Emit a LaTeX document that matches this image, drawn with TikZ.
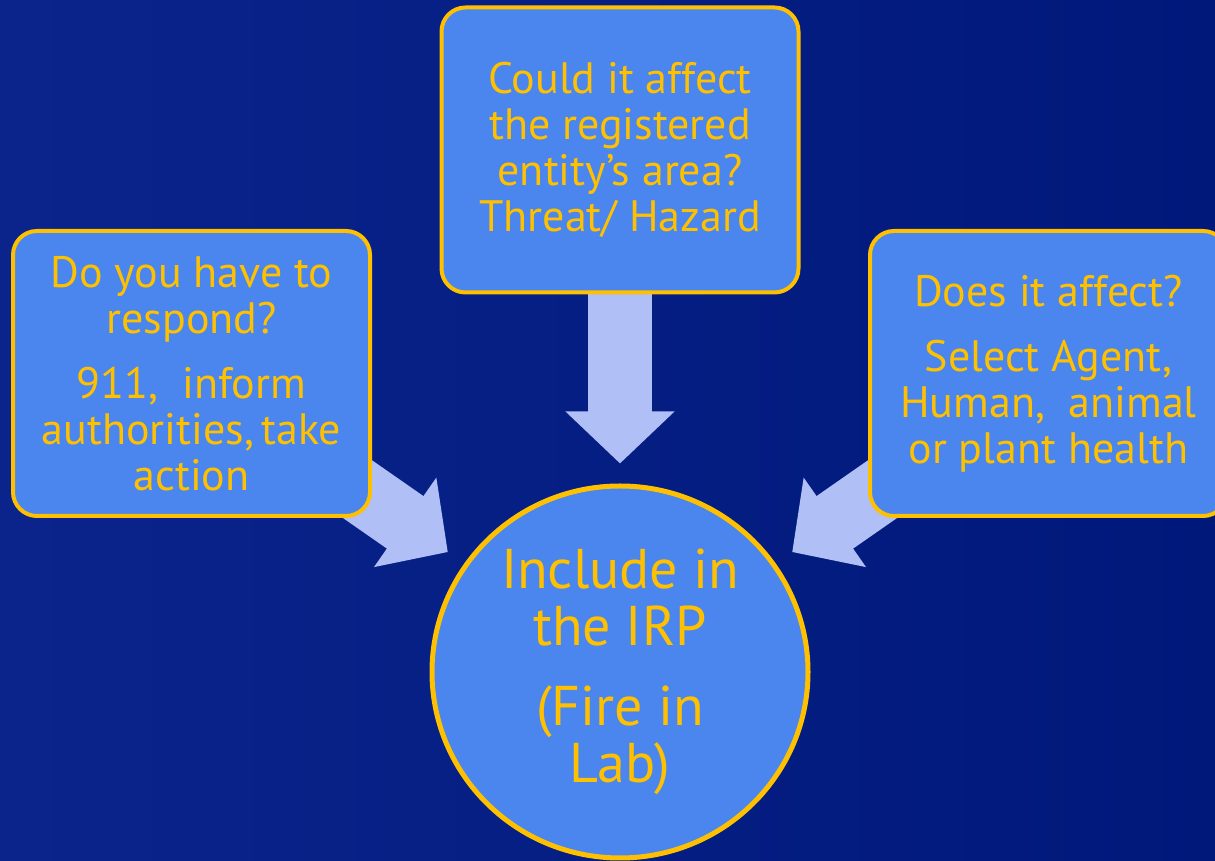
\documentclass[tikz,border=0pt]{standalone}
\usepackage{fontspec}
\setmainfont{PT Sans}
\usetikzlibrary{arrows.meta,shapes.geometric}
\definecolor{bgdark}{RGB}{0,24,122}
\definecolor{bglight}{RGB}{10,36,140}
\definecolor{boxblue}{RGB}{74,134,238}
\definecolor{gold}{RGB}{255,192,0}
\definecolor{arrowblue}{RGB}{176,191,245}
\pgfdeclarelayer{back}
\pgfdeclarelayer{mid}
\pgfsetlayers{back,mid,main}

\begin{document}
\begin{tikzpicture}[x=1pt,y=1pt,
  box/.style={draw=gold,line width=4pt,fill=boxblue,rounded corners=24pt,
    minimum width=357pt,minimum height=285pt,inner sep=0pt,
    text=gold,align=center,font=\fontsize{44}{46}\selectfont},
  bubble/.style={ellipse,draw=gold,line width=5pt,fill=boxblue,
    minimum width=376pt,minimum height=372pt,inner sep=0pt,
    text=gold,align=center,font=\fontsize{56}{57}\selectfont},
  fat/.style={arrowblue,line width=64pt,shorten >=20pt,
    -{Triangle[length=52pt,width=106pt]}}]
\useasboundingbox (0,0) rectangle (1215,861);
\begin{pgfonlayer}{back}
\shade[left color=bglight,right color=bgdark] (0,0) rectangle (1215,861);
\end{pgfonlayer}
% the three questions and the result
\node[box] (tbox) at (620,711) {Could it affect\\the registered\\entity’s area?\\Threat/ Hazard};
\node[box] (lbox) at (191.5,487.5) {Do you have to\\respond?\\[19pt]911,\ \ inform\\authorities,\,take\\action};
\node[box] (rbox) at (1048.5,487.5) {Does it affect?\\[19pt]Select Agent,\\Human,\ \ animal\\or plant health};
\node[bubble] (irp) at (620,189) {Include in\\the IRP\\[23pt](Fire in\\Lab)};
\begin{pgfonlayer}{mid}
\draw[fat] (tbox.center) -- (irp);
\draw[fat] (lbox.center) -- (irp);
\draw[fat] (rbox.center) -- (irp);
\end{pgfonlayer}
\end{tikzpicture}
\end{document}
